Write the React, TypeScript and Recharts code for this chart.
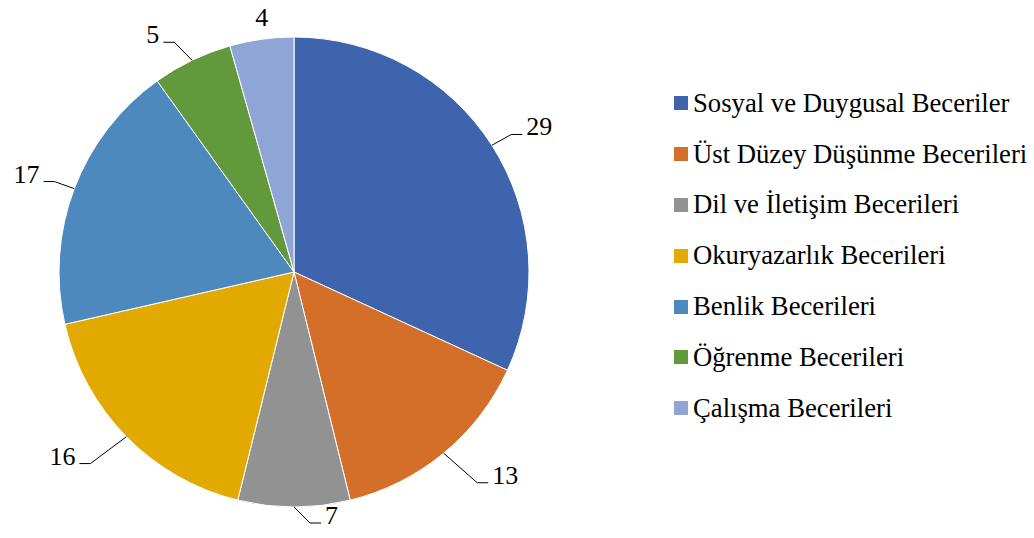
import { PieChart, Pie, Cell, Legend } from "recharts";

const categories = [
  "Sosyal ve Duygusal Beceriler",
  "Üst Düzey Düşünme Becerileri",
  "Dil ve İletişim Becerileri",
  "Okuryazarlık Becerileri",
  "Benlik Becerileri",
  "Öğrenme Becerileri",
  "Çalışma Becerileri",
];
const values = [29, 13, 7, 16, 17, 5, 4];
const colours = ["#3D64AD", "#D46F2A", "#929292", "#E2AA00", "#4E89BE", "#63993D", "#8FA5D5"];

const data = categories.map((name, i) => ({ name, value: values[i], colour: colours[i] }));

const FONT = "'Liberation Serif', 'Times New Roman', serif";
const RAD = Math.PI / 180;

function renderLabel(props: any) {
  const { cx, cy, midAngle, outerRadius, value, index } = props;
  const cos = Math.cos(-midAngle * RAD);
  const sin = Math.sin(-midAngle * RAD);
  const sx = cx + outerRadius * cos;
  const sy = cy + outerRadius * sin;

  // slice at the very top: number only, no leader line
  if (sin < -0.98) {
    return (
      <text key={index} x={sx} y={sy - 13} textAnchor="middle" fontSize={26} fontFamily={FONT} fill="#000">
        {value}
      </text>
    );
  }

  const right = cos >= 0;
  const dir = right ? 1 : -1;
  // lower diagonal labels sit further out
  const off = 20 + 48 * Math.max(0, sin) * Math.abs(cos);
  const mx = cx + (outerRadius + off) * cos + dir * 16 * (1 - Math.abs(cos));
  const my = cy + (outerRadius + off) * sin - (sin > 0 ? 4 : 0);
  const ex = mx + dir * 11;
  return (
    <g key={index}>
      <path d={`M${sx},${sy}L${mx},${my}L${ex},${my}`} stroke="#000" strokeWidth={1} fill="none" />
      <text
        x={ex + dir * 4}
        y={my + 1}
        textAnchor={right ? "start" : "end"}
        fontSize={26}
        fontFamily={FONT}
        fill="#000"
      >
        {value}
      </text>
    </g>
  );
}

function LegendContent() {
  return (
    <div style={{ fontFamily: FONT, fontSize: 26.7, color: "#000" }}>
      {data.map((d) => (
        <div key={d.name} style={{ display: "flex", alignItems: "center", height: 50.8 }}>
          <span style={{ width: 14, height: 14, background: d.colour, marginRight: 5, flexShrink: 0 }} />
          <span style={{ whiteSpace: "nowrap", lineHeight: "27px" }}>{d.name}</span>
        </div>
      ))}
    </div>
  );
}

export default function App() {
  return (
    <div style={{ position: "absolute", left: 0, top: 0, width: 1034, height: 538, background: "#fff" }}>
      <PieChart width={1034} height={538} margin={{ top: 0, right: 0, bottom: 0, left: 0 }}>
        <Pie
          data={data}
          dataKey="value"
          nameKey="name"
          cx={294}
          cy={272}
          outerRadius={235}
          startAngle={90}
          endAngle={-270}
          stroke="#fff"
          strokeWidth={1}
          label={renderLabel}
          labelLine={false}
          isAnimationActive={false}
        >
          {data.map((d, i) => (
            <Cell key={i} fill={d.colour} />
          ))}
        </Pie>
        <Legend
          layout="vertical"
          content={<LegendContent />}
          wrapperStyle={{ position: "absolute", left: 674, top: 78, width: 360 }}
        />
      </PieChart>
    </div>
  );
}
